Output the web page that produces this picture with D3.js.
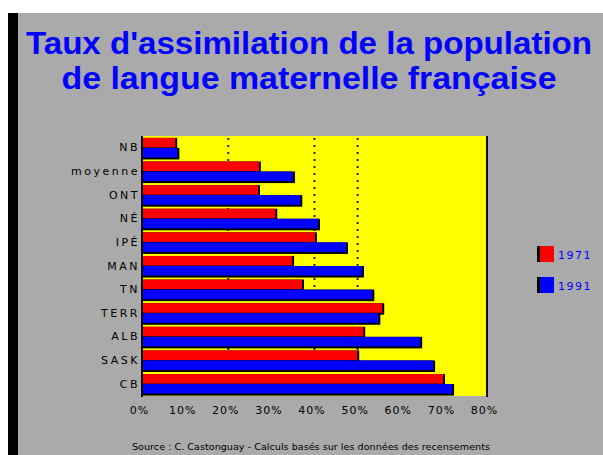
<!DOCTYPE html>
<html>
<head>
<meta charset="utf-8">
<script src="https://cdn.jsdelivr.net/npm/d3@7"></script>
<style>
html,body{margin:0;padding:0;background:#fff;}
svg{display:block;}
</style>
</head>
<body>
<script>
const categories = ["NB","moyenne","ONT","NÉ","IPÉ","MAN","TN","TERR","ALB","SASK","CB"];
const values1971 = [7.7,27.1,26.9,30.9,40.1,34.8,37.1,55.7,51.3,49.9,69.8];
const values1991 = [8.2,35.0,36.7,40.8,47.3,51.0,53.4,54.8,64.5,67.5,71.9];
const seriesNames = ["1971","1991"];
const seriesColors = ["#ff0000","#0000ff"];
const xTicks = [0,10,20,30,40,50,60,70,80];
const xTickLabels = ["0%","10%","20%","30%","40%","50%","60%","70%","80%"];
const gridValues = [20,40,50];
const titleLines = ["Taux d'assimilation de la population","de langue maternelle française"];
const sourceText = "Source : C. Castonguay - Calculs basés sur les données des recensements";

const W = 603, H = 455;
const svg = d3.select("body").append("svg").attr("width", W).attr("height", H);

// page background
svg.append("rect").attr("x",0).attr("y",0).attr("width",W).attr("height",H).attr("fill","#fff");
svg.append("rect").attr("x",8).attr("y",13).attr("width",W-8).attr("height",H-13).attr("fill","#aaaaaa");
svg.append("rect").attr("x",8).attr("y",13).attr("width",10).attr("height",H-13).attr("fill","#000");

// title
const tW = [566, 495];
svg.selectAll("text.title").data(titleLines).enter().append("text")
  .attr("class","title")
  .attr("x", 309).attr("y",(d,i)=>54 + i*35)
  .attr("text-anchor","middle")
  .attr("font-family","'Liberation Sans', Arial, sans-serif")
  .attr("font-weight","bold").attr("font-size",32)
  .attr("fill","#0000ff")
  .attr("textLength",(d,i)=>tW[i]).attr("lengthAdjust","spacingAndGlyphs")
  .text(d=>d);

// plot area
const plot = {left:142, right:487, top:136, bottom:396};
const x = d3.scaleLinear().domain([0,80]).range([plot.left, plot.right]);
const y = d3.scaleBand().domain(categories).range([plot.top, plot.bottom]).paddingInner(0.15).paddingOuter(0.08);
const ys = d3.scaleBand().domain(seriesNames).range([0, y.bandwidth()]);

svg.append("rect").attr("x",plot.left).attr("y",plot.top)
  .attr("width",plot.right-plot.left).attr("height",plot.bottom-plot.top).attr("fill","#ffff00");

// dotted grid lines
svg.selectAll("line.grid").data(gridValues).enter().append("line")
  .attr("x1",d=>x(d)).attr("x2",d=>x(d))
  .attr("y1",plot.top+2).attr("y2",plot.bottom)
  .attr("stroke","#222").attr("stroke-width",2).attr("stroke-dasharray","2,5");

// bars
const data = categories.map((c,i)=>({cat:c, vals:[values1971[i], values1991[i]]}));
const groups = svg.selectAll("g.cat").data(data).enter().append("g")
  .attr("transform",d=>`translate(0,${y(d.cat)})`);
seriesNames.forEach((s,si)=>{
  groups.append("rect")
    .attr("x",x(0)).attr("y",ys(s))
    .attr("width",d=>x(d.vals[si])-x(0)+2).attr("height",ys.bandwidth()+1.5)
    .attr("fill","#000");
  groups.append("rect")
    .attr("x",x(0)).attr("y",ys(s))
    .attr("width",d=>x(d.vals[si])-x(0)).attr("height",ys.bandwidth()-0.5)
    .attr("fill",seriesColors[si]);
});

// axis lines
svg.append("line").attr("x1",plot.left).attr("x2",plot.left).attr("y1",plot.top).attr("y2",plot.bottom+1)
  .attr("stroke","#000").attr("stroke-width",2);
svg.append("line").attr("x1",plot.right).attr("x2",plot.right).attr("y1",plot.top).attr("y2",plot.bottom+1)
  .attr("stroke","#111").attr("stroke-width",2);

// y labels
const yAxis = d3.axisLeft(y).tickSize(0).tickPadding(0);
const gy = svg.append("g").attr("transform",`translate(${plot.left-1},0)`).call(yAxis);
gy.select(".domain").remove();
gy.selectAll("text").attr("font-family","'DejaVu Sans', sans-serif").attr("font-size",11)
  .attr("fill","#000").attr("letter-spacing","2.5px").attr("dx",-1);

// x labels
const xAxis = d3.axisBottom(x).tickValues(xTicks).tickSize(0).tickPadding(0)
  .tickFormat((d,i)=>xTickLabels[i]);
const gx = svg.append("g").attr("transform",`translate(0,${plot.bottom+10})`).call(xAxis);
gx.select(".domain").remove();
gx.selectAll("text").attr("font-family","'DejaVu Sans', sans-serif").attr("font-size",11)
  .attr("fill","#000").attr("letter-spacing","1px").attr("dx",-3);

// legend
const lg = svg.append("g").attr("transform","translate(537,246)");
const li = lg.selectAll("g").data(seriesNames).enter().append("g")
  .attr("transform",(d,i)=>`translate(0,${i*31})`);
li.append("rect").attr("x",0).attr("y",0).attr("width",17).attr("height",16).attr("fill",(d,i)=>seriesColors[i]);
li.append("rect").attr("x",0).attr("y",0).attr("width",3).attr("height",16).attr("fill","#000");
li.append("text").attr("x",21).attr("y",12.5)
  .attr("font-family","'DejaVu Sans', sans-serif").attr("font-size",11)
  .attr("fill","#0000ff").attr("letter-spacing","1.5px").text(d=>d);

// source
svg.append("text").attr("x",311).attr("y",450).attr("text-anchor","middle")
  .attr("font-family","'DejaVu Sans', sans-serif").attr("font-size",8).attr("fill","#000")
  .attr("textLength",358).attr("lengthAdjust","spacingAndGlyphs")
  .text(sourceText);
</script>
</body>
</html>
